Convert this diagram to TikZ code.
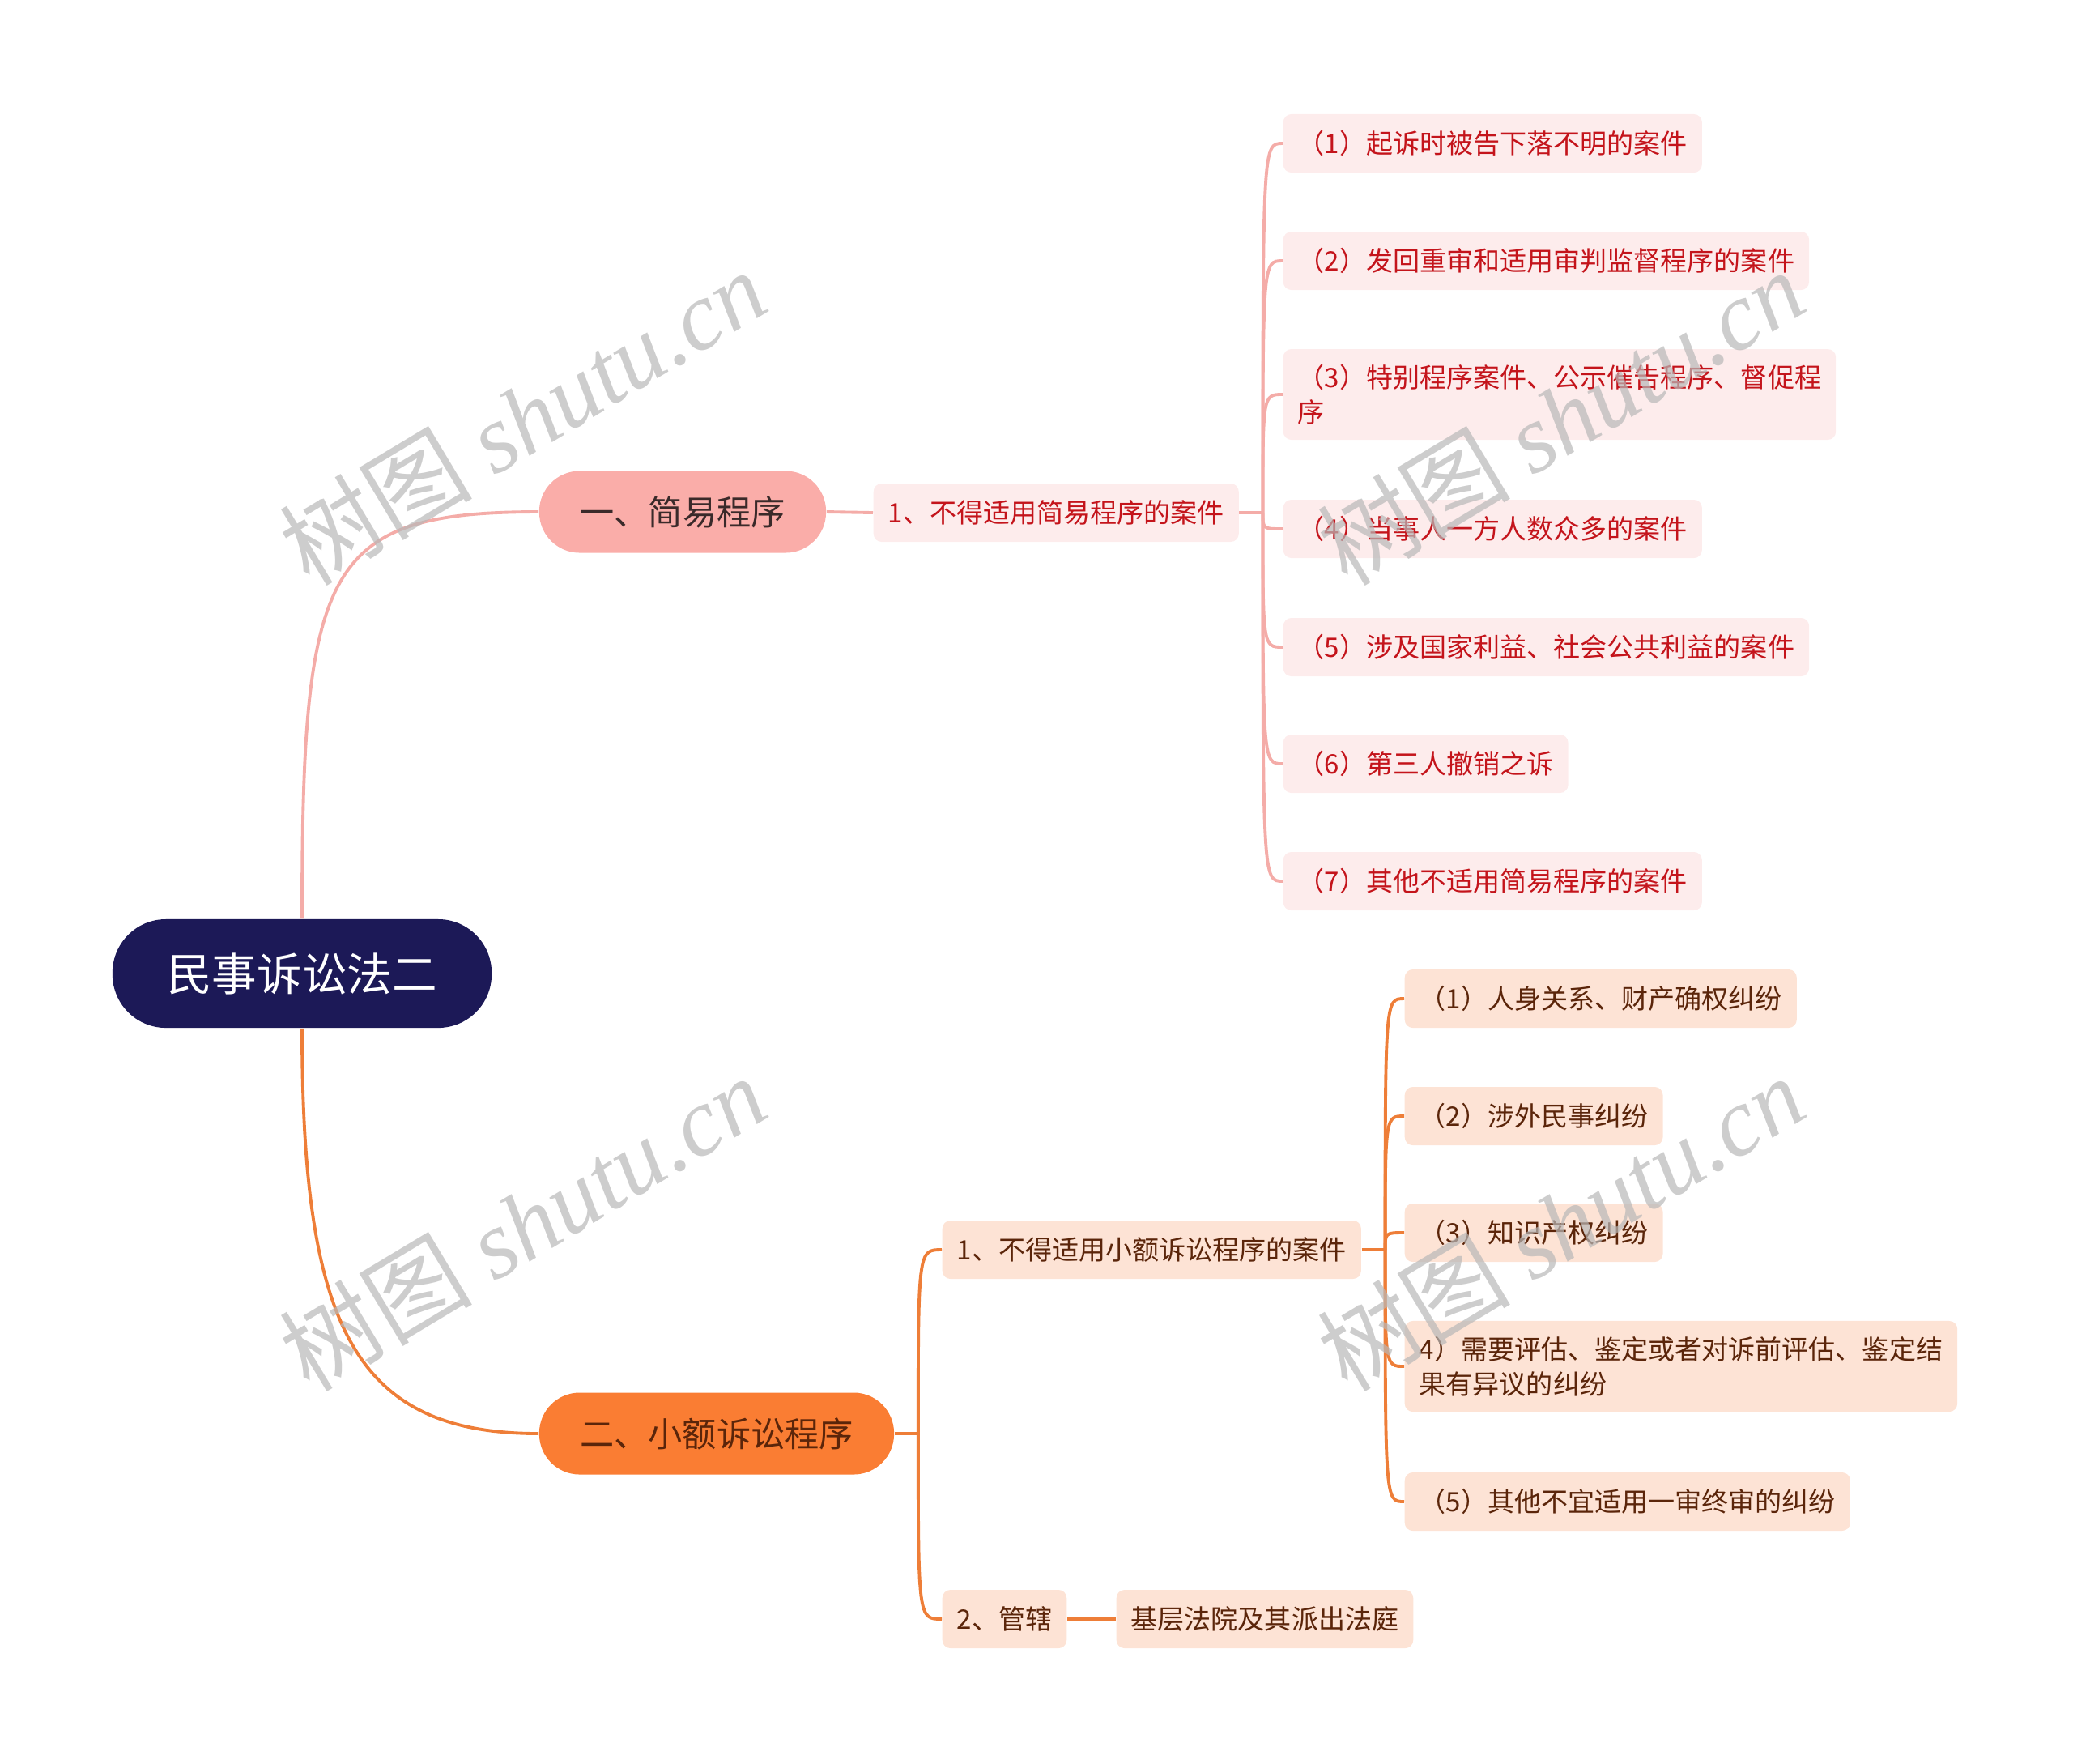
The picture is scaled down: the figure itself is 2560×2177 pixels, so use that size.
\documentclass[tikz,border=0pt]{standalone}
\usepackage{fontspec}
\setmainfont{Noto Sans CJK SC}
\newfontfamily\markfont{Liberation Serif}
\usepackage{tikz}
\usetikzlibrary{positioning}

\definecolor{rootblue}{HTML}{1C1957}
\definecolor{pinkmain}{HTML}{FAADA9}
\definecolor{pinkline}{HTML}{F4ACA8}
\definecolor{pinkleaf}{HTML}{FDECEC}
\definecolor{redtext}{HTML}{C4141B}
\definecolor{darktext}{HTML}{3A2A2A}
\definecolor{orangemain}{HTML}{FA7D33}
\definecolor{orangeline}{HTML}{EE7E38}
\definecolor{orangeleaf}{HTML}{FDE3D5}
\definecolor{browntext}{HTML}{5B250A}

\begin{document}
\begin{tikzpicture} [x=0.01cm, y=-0.01cm,
            node distance = 0.6cm,
            branchcurve/.style = {to path={.. controls (\tikztostart |- \tikztotarget) .. (\tikztotarget)}}]
            \tikzstyle{rootbox}=[rectangle, rounded corners=0.66cm, fill=rootblue, text=white,
                minimum width=4.68cm, minimum height=1.34cm,
                font=\fontsize{15.8pt}{19pt}\selectfont]
            \tikzstyle{mainbox}=[rectangle, rounded corners=0.5cm, minimum height=1.01cm,
                font=\fontsize{12pt}{15pt}\selectfont]
            \tikzstyle{leafbox}=[rectangle, rounded corners=0.1cm, anchor=west,
                minimum height=0.72cm, inner xsep=0.18cm, inner ysep=0.19cm,
                align=left, font=\fontsize{9.4pt}{12.2pt}\selectfont]
            \tikzstyle{pinkleafbox}=[leafbox, fill=pinkleaf, text=redtext]
            \tikzstyle{orangeleafbox}=[leafbox, fill=orangeleaf, text=browntext]
            \tikzstyle{pinklink}=[draw=pinkline, line width=1.1pt]
            \tikzstyle{orangelink}=[draw=orangeline, line width=1.1pt]
            \tikzstyle{watermark}=[rotate=31, text=black!28, opacity=0.7,
                font=\fontsize{34pt}{38pt}\selectfont]

            \useasboundingbox (0,0) rectangle (2560,2177);

            % Root
            \node (root) [rootbox] at (373,1202) {民事诉讼法二};

            % Branch one
            \node (b1) [mainbox, fill=pinkmain, text=darktext,
                minimum width=3.54cm] at (843,632) {一、简易程序};
            \node (s1) [pinkleafbox] at (1078,633) {1、不得适用简易程序的案件};
            \coordinate (f1) at ([xshift=0.29cm]s1.east);

            \node (p1) [pinkleafbox] at (1584,177) {（1）起诉时被告下落不明的案件};
            \node (p2) [pinkleafbox] at (1584,322) {（2）发回重审和适用审判监督程序的案件};
            \node (p3) [pinkleafbox] at (1584,487) {（3）特别程序案件、公示催告程序、督促程\\序};
            \node (p4) [pinkleafbox] at (1584,653) {（4）当事人一方人数众多的案件};
            \node (p5) [pinkleafbox] at (1584,799) {（5）涉及国家利益、社会公共利益的案件};
            \node (p6) [pinkleafbox] at (1584,943) {（6）第三人撤销之诉};
            \node (p7) [pinkleafbox] at (1584,1088) {（7）其他不适用简易程序的案件};

            % Branch two
            \node (b2) [mainbox, fill=orangemain, text=browntext,
                minimum width=4.38cm] at (885,1770) {二、小额诉讼程序};
            \coordinate (f2) at ([xshift=0.29cm]b2.east);
            \node (s21) [orangeleafbox] at (1163,1543) {1、不得适用小额诉讼程序的案件};
            \node (s22) [orangeleafbox] at (1163,1999) {2、管辖};
            \node (r1) [orangeleafbox, right = of s22.east] {基层法院及其派出法庭};
            \coordinate (f3) at ([xshift=0.29cm]s21.east);

            \node (q1) [orangeleafbox] at (1734,1233) {（1）人身关系、财产确权纠纷};
            \node (q2) [orangeleafbox] at (1734,1378) {（2）涉外民事纠纷};
            \node (q3) [orangeleafbox] at (1734,1522) {（3）知识产权纠纷};
            \node (q4) [orangeleafbox] at (1734,1687) {4）需要评估、鉴定或者对诉前评估、鉴定结\\果有异议的纠纷};
            \node (q5) [orangeleafbox] at (1734,1854) {（5）其他不宜适用一审终审的纠纷};

            % Connectors
            \draw [pinklink] (root.north) .. controls +(0,-435) and +(-266,0) .. (b1.west);
            \draw [orangelink] (root.south) .. controls +(0,371) and +(-226,0) .. (b2.west);

            \draw [pinklink] (b1.east) -- (s1.west);
            \draw [pinklink] (s1.east) -- (f1);
            \foreach \i in {1,...,7}
                \draw [pinklink] (f1) to[branchcurve] (p\i.west);

            \draw [orangelink] (b2.east) -- (f2);
            \draw [orangelink] (f2) to[branchcurve] (s21.west);
            \draw [orangelink] (f2) to[branchcurve] (s22.west);
            \draw [orangelink] (s21.east) -- (f3);
            \foreach \i in {1,...,5}
                \draw [orangelink] (f3) to[branchcurve] (q\i.west);
            \draw [orangelink] (s22.east) -- (r1.west);

            % Watermarks
            \foreach \wx/\wy in {645/515, 1927/515, 645/1510, 1927/1510}
                \node (mark) [watermark] at (\wx,\wy) {树图 {\markfont\itshape shutu.cn}};
\end{tikzpicture}
\end{document}
